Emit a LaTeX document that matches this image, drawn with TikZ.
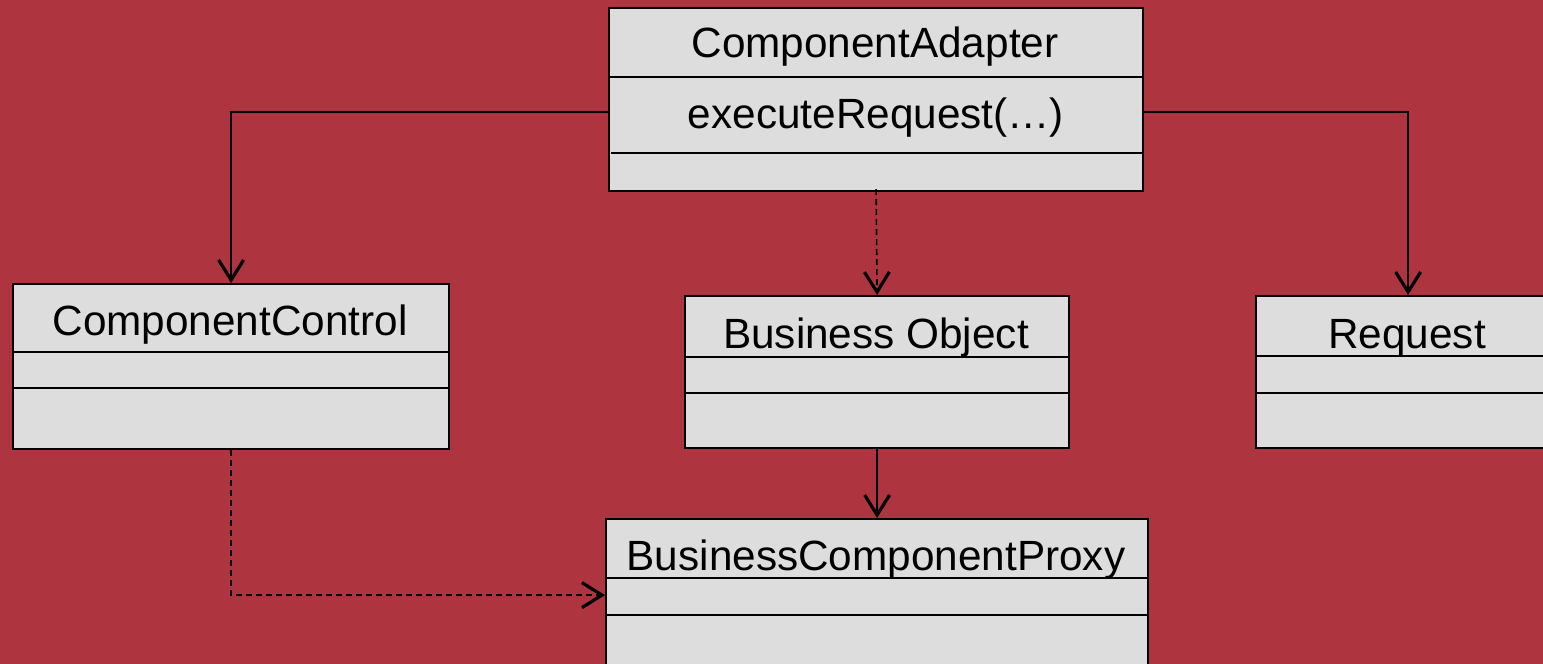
\documentclass[tikz,border=0pt]{standalone}
\usepackage{fontspec}
\setmainfont{Liberation Sans}
\usetikzlibrary{arrows.meta}
\definecolor{bg}{RGB}{174,53,63}
\definecolor{boxfill}{RGB}{221,221,221}
\begin{document}
\begin{tikzpicture}[x=1pt,y=-1pt,
  classbox/.style={draw=black,fill=boxfill,line width=2.2pt,inner sep=0pt,anchor=north west},
  divider/.style={draw=black,line width=2pt},
  title/.style={anchor=base,font=\fontsize{42.3}{50}\selectfont,inner sep=0pt},
  conn/.style={draw=black,line width=1.6pt,-{Straight Barb[length=20pt,width=25pt,line width=3.2pt]}},
  dconn/.style={conn,dash pattern=on 6pt off 4pt}]
\useasboundingbox (0,0) rectangle (1543,664);
\clip (0,0) rectangle (1543,664);
\fill[bg] (0,0) rectangle (1543,664);
% ComponentAdapter
\node[classbox,minimum width=534pt,minimum height=183pt] (ca) at (608,7) {};
\draw[divider] ([yshift=-70pt]ca.north west) -- ([yshift=-70pt]ca.north east);
\draw[divider] ([xshift=3pt,yshift=-146pt]ca.north west) -- ([xshift=-2pt,yshift=-146pt]ca.north east);
\node[title] (catitle) at (875,57) {ComponentAdapter};
\node[title] (caop) at (876,128) {executeRequest(…)};
% ComponentControl
\node[classbox,minimum width=436pt,minimum height=165pt] (cc) at (12,283) {};
\draw[divider] ([yshift=-69pt]cc.north west) -- ([yshift=-69pt]cc.north east);
\draw[divider] ([yshift=-105pt]cc.north west) -- ([yshift=-105pt]cc.north east);
\node[title] (cctitle) at (230,335) {ComponentControl};
% Business Object
\node[classbox,minimum width=384pt,minimum height=152pt] (bo) at (684,295) {};
\draw[divider] ([yshift=-62pt]bo.north west) -- ([yshift=-62pt]bo.north east);
\draw[divider] ([yshift=-98pt]bo.north west) -- ([yshift=-98pt]bo.north east);
\node[title] (botitle) at (876,348) {Business Object};
% Request
\node[classbox,minimum width=304pt,minimum height=152pt] (rq) at (1255,295) {};
\draw[divider] ([yshift=-61pt]rq.north west) -- ([yshift=-61pt]rq.north east);
\draw[divider] ([yshift=-98pt]rq.north west) -- ([yshift=-98pt]rq.north east);
\node[title] (rqtitle) at (1407,348) {Request};
% BusinessComponentProxy
\node[classbox,minimum width=542pt,minimum height=152pt] (bcp) at (605,518) {};
\draw[divider] ([yshift=-60pt]bcp.north west) -- ([yshift=-60pt]bcp.north east);
\draw[divider] ([yshift=-97pt]bcp.north west) -- ([yshift=-97pt]bcp.north east);
\node[title] (bcptitle) at (876,570) {BusinessComponentProxy};
% connectors
\coordinate (y112) at (0,112);
\draw[conn] (ca.west |- y112) -| (cc.north);
\draw[conn] (ca.east |- y112) -| (rq.north);
\draw[dconn] ([yshift=3pt]ca.south) -- (bo.north);
\draw[conn] (bo.south) -- (bcp.north);
\draw[dconn] (cc.south) |- (bcp.west);
\end{tikzpicture}
\end{document}
